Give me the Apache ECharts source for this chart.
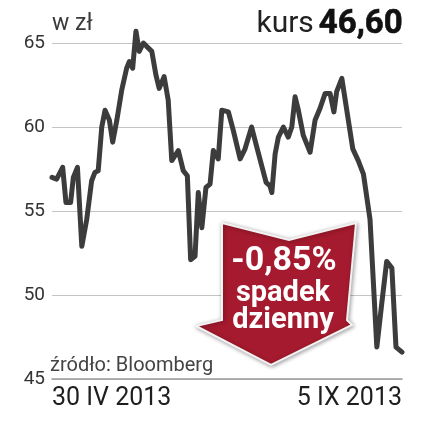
<!DOCTYPE html>
<html>
<head>
<meta charset="utf-8">
<script src="https://cdn.jsdelivr.net/npm/echarts@6/dist/echarts.min.js"></script>
<style>
html,body{margin:0;padding:0;background:#fff;}
#chart{width:433px;height:427px;}
</style>
</head>
<body>
<div id="chart"></div>
<script>
// Days since 30 IV 2013
const days = [0, 1.7, 3.9, 5.1, 6.8, 7.8, 9.3, 10.9, 12.7, 14.5, 15.7, 16.9, 18.2, 19.4, 21.0, 22.2, 23.7, 25.5, 27.3, 28.3, 29.5, 30.7, 31.9, 33.4, 34.6, 36.5, 38.0, 39.2, 41.0, 42.5, 43.8, 46.2, 48.0, 49.5, 50.7, 52.3, 53.5, 54.8, 56.3, 57.8, 59.0, 60.8, 62.1, 64.5, 66.3, 68.8, 70.6, 73.0, 74.9, 78.3, 79.7, 80.4, 81.6, 82.8, 84.6, 86.4, 87.7, 88.9, 90.1, 91.9, 94.4, 96.2, 98.0, 99.9, 101.7, 103.1, 104.1, 106.0, 107.8, 110.0, 112.0, 113.9, 116.3, 118.8, 120.6, 122.4, 124.3, 125.8, 128];
// Share price, zł
const prices = [57.0, 56.9, 57.6, 55.5, 55.5, 57.0, 57.6, 52.9, 54.5, 56.8, 57.3, 57.4, 60.0, 61.0, 60.4, 59.1, 60.4, 62.2, 63.5, 63.9, 63.5, 65.7, 64.5, 65.0, 64.8, 64.5, 63.1, 62.3, 63.0, 61.6, 58.0, 58.6, 57.4, 57.1, 52.1, 52.3, 56.1, 54.0, 56.4, 56.6, 58.6, 58.1, 61.0, 60.9, 59.8, 58.1, 58.7, 60.0, 58.8, 56.7, 56.5, 56.1, 58.4, 59.4, 60.0, 59.4, 60.0, 61.8, 61.0, 59.5, 58.5, 60.4, 61.1, 62.0, 62.0, 60.9, 62.1, 62.9, 61.0, 58.7, 58.0, 57.2, 54.5, 46.9, 49.5, 52.0, 51.6, 46.9, 46.6];
const dateTicks = [0, 128];
const dateLabels = ['30 IV 2013', '5 IX 2013'];
const yTicks = [45, 50, 55, 60, 65];

const chart = echarts.init(document.getElementById('chart'), null, {renderer: 'canvas'});
const FONT = 'Roboto';

chart.setOption({
  animation: false,
  backgroundColor: '#ffffff',
  title: [
    {text: 'w zł', left: 52, top: 13, padding: 0, textStyle: {fontFamily: FONT, fontSize: 23, fontWeight: 'normal', color: '#3a3a3a'}},
    {text: '{a|kurs} {b|46,60}', right: 30, top: 8, padding: 0,
      textStyle: {rich: {
        a: {fontFamily: FONT, fontSize: 30, color: '#222', fontWeight: 'normal'},
        b: {fontFamily: FONT, fontSize: 33, color: '#111', fontWeight: 'bold', textBorderColor: '#111', textBorderWidth: 0.6}
      }}},
    {text: 'źródło: Bloomberg', left: 50, top: 356, padding: 0, textStyle: {fontFamily: FONT, fontSize: 20, fontWeight: 'normal', color: '#444'}}
  ],
  grid: {left: 52, right: 31, top: 43, bottom: 48, outerBoundsMode: 'none'},
  xAxis: {
    type: 'value', min: 0, max: 128,
    axisLine: {show: true, lineStyle: {color: '#9a9a9a', width: 1.5}},
    axisTick: {show: false},
    splitLine: {show: false},
    axisLabel: {
      customValues: dateTicks,
      formatter: v => dateLabels[dateTicks.indexOf(v)] || '',
      alignMinLabel: 'left', alignMaxLabel: 'right',
      fontFamily: FONT, fontSize: 25, color: '#1e1e1e', margin: 7
    }
  },
  yAxis: {
    type: 'value', min: 45, max: 65, interval: 5,
    axisLine: {show: false}, axisTick: {show: false},
    splitLine: {lineStyle: {color: '#c4c4c4', width: 1}},
    axisLabel: {fontFamily: FONT, fontSize: 19, color: '#333', margin: 7,
      formatter: v => yTicks.includes(v) ? String(v) : ''}
  },
  series: [{
    type: 'line',
    data: days.map((d, i) => [d, prices[i]]),
    symbol: 'none',
    clip: false,
    lineStyle: {color: '#3c3c3c', width: 5, join: 'round', cap: 'round'}
  }],
  graphic: [
    {type: 'polygon', z: 100,
      shape: {points: [[222,223],[289,240],[356,223],[347,320],[352,325],[271,365],[196,326],[222,320]]},
      style: {fill: '#a51a2e', stroke: '#f2f2f2', lineWidth: 2, shadowBlur: 4, shadowColor: 'rgba(0,0,0,0.35)', shadowOffsetX: 1, shadowOffsetY: 1}},
    {type: 'text', z: 101, x: 284, y: 261,
      style: {text: '-0,85%', fontFamily: FONT, fontSize: 34, fontWeight: 'bold', fill: '#fff', align: 'center', verticalAlign: 'middle'}},
    {type: 'text', z: 101, x: 283, y: 294,
      style: {text: 'spadek', fontFamily: FONT, fontSize: 29, fontWeight: 'bold', fill: '#fff', align: 'center', verticalAlign: 'middle'}},
    {type: 'text', z: 101, x: 283, y: 321,
      style: {text: 'dzienny', fontFamily: FONT, fontSize: 29, fontWeight: 'bold', fill: '#fff', align: 'center', verticalAlign: 'middle'}}
  ]
});
</script>
</body>
</html>
